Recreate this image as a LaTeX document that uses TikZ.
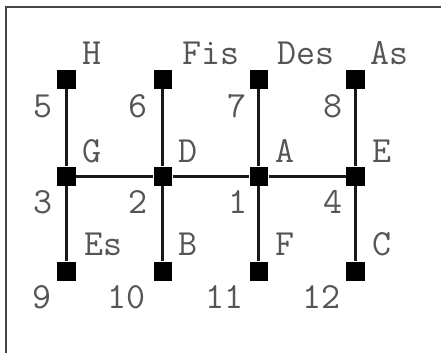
\documentclass[tikz,border=0pt]{standalone}
\usepackage{fontspec}
\usetikzlibrary{positioning}
\definecolor{inkgray}{RGB}{85,85,85}
\definecolor{framegray}{RGB}{70,70,70}
\tikzset{vertex/.style={fill=black, inner sep=0pt, minimum size=0.38cm},
         edge/.style={draw=black!90, line width=0.06cm},
         tag/.style={text=inkgray, inner sep=0pt, anchor=base},
         frame/.style={draw=framegray, line width=0.04cm}}

\begin{document}
\begin{tikzpicture}[x=0.02cm, y=-0.02cm, font=\ttfamily\fontsize{21}{24}\selectfont]
          \useasboundingbox (0,0) rectangle (441,353);
          \draw[frame] (441,7) -- (6,7) -- (6,353);
          % top row
          \node[vertex] (v5)  at ( 66.5, 79.5) {};
          \node[vertex] (v6)  at (163.0, 79.5) {};
          \node[vertex] (v7)  at (259.0, 79.5) {};
          \node[vertex] (v8)  at (356.0, 79.5) {};
          % middle row
          \node[vertex] (v3)  at ( 66.5,176.0) {};
          \node[vertex] (v2)  at (163.0,176.0) {};
          \node[vertex] (v1)  at (259.0,176.0) {};
          \node[vertex] (v4)  at (356.0,176.0) {};
          % bottom row
          \node[vertex] (v9)  at ( 66.5,271.0) {};
          \node[vertex] (v10) at (163.0,271.0) {};
          \node[vertex] (v11) at (259.0,271.0) {};
          \node[vertex] (v12) at (356.0,271.0) {};
          \draw[edge] (v5) -- (v3) -- (v9);
          \draw[edge] (v6) -- (v2) -- (v10);
          \draw[edge] (v7) -- (v1) -- (v11);
          \draw[edge] (v8) -- (v4) -- (v12);
          \draw[edge] (v3) -- (v2) -- (v1) -- (v4);
          % names
          \node[tag] (nH)   at ( 92.5, 64) {H};
          \node[tag] (nFis) at (211.5, 64) {Fis};
          \node[tag] (nDes) at (306.0, 64) {Des};
          \node[tag] (nAs)  at (390.0, 64) {As};
          \node[tag] (nG)   at ( 92.0,162) {G};
          \node[tag] (nD)   at (188.0,162) {D};
          \node[tag] (nA)   at (285.0,162) {A};
          \node[tag] (nE)   at (382.0,162) {E};
          \node[tag] (nEs)  at (104.0,255) {Es};
          \node[tag] (nB)   at (188.0,255) {B};
          \node[tag] (nF)   at (285.0,255) {F};
          \node[tag] (nC)   at (382.0,255) {C};
          % numbers
          \node[tag] (k5)  at ( 43,117) {5};
          \node[tag] (k6)  at (138,117) {6};
          \node[tag] (k7)  at (237,117) {7};
          \node[tag] (k8)  at (333,117) {8};
          \node[tag] (k3)  at ( 43,213) {3};
          \node[tag] (k2)  at (138,213) {2};
          \node[tag] (k1)  at (238,213) {1};
          \node[tag] (k4)  at (333,213) {4};
          \node[tag] (k9)  at ( 42,308) {9};
          \node[tag] (k10) at (127,308) {10};
          \node[tag] (k11) at (225,308) {11};
          \node[tag] (k12) at (322,308) {12};
        \end{tikzpicture}
\end{document}
